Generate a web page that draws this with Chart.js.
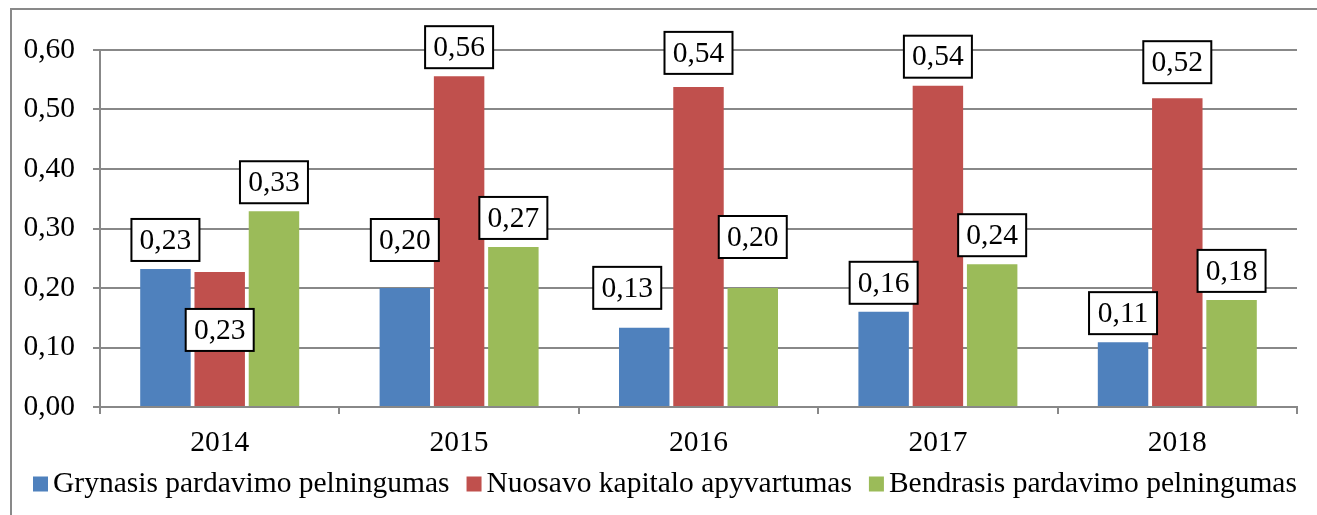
<!DOCTYPE html>
<html>
<head>
<meta charset="utf-8">
<script src="https://cdn.jsdelivr.net/npm/chart.js@4"></script>
<style>
  html, body { margin: 0; padding: 0; background: #fff; overflow: hidden; }
  #wrap { position: relative; width: 1317px; height: 515px; overflow: hidden; }
  #frame { position: absolute; left: 10px; top: 8px; width: 1400px; height: 600px;
           border: 2px solid #898989; box-sizing: border-box; }
  canvas { position: absolute; left: 0; top: 0; }
</style>
</head>
<body>
<div id="wrap">
  <div id="frame"></div>
  <canvas id="myChart" width="1317" height="515"></canvas>
</div>
<script>
var years = ['2014', '2015', '2016', '2017', '2018'];
var grynasis = [0.232, 0.200, 0.133, 0.160, 0.109];
var nuosavo = [0.227, 0.556, 0.538, 0.540, 0.519];
var bendrasis = [0.329, 0.269, 0.200, 0.240, 0.180];
var yTicks = [0, 0.1, 0.2, 0.3, 0.4, 0.5, 0.6];

// label nudges in px (dx, dy) where the labels were moved by hand
var labelShift = [
  [[0, 0], [0, -19], [-17, -11], [0, 0], [0, 0]],
  [[0, 87], [0, 0], [0, -5], [0, 0], [0, -7]],
  [[0, 0], [0, 0], [0, -22], [0, 0], [0, 0]]
];

var FONT = "'Liberation Serif', 'Times New Roman', serif";
var FSIZE = 29.5;
var grey = '#888888';

function fmt(v) {
  return v.toFixed(2).replace('.', ',');
}

// boxed value labels above the bars
var boxLabels = {
  id: 'boxLabels',
  afterDatasetsDraw: function(chart) {
    var ctx = chart.ctx;
    ctx.save();
    ctx.font = FSIZE + 'px ' + FONT;
    ctx.textAlign = 'center';
    ctx.textBaseline = 'middle';
    chart.data.datasets.forEach(function(ds, i) {
      var meta = chart.getDatasetMeta(i);
      meta.data.forEach(function(bar, j) {
        var txt = fmt(ds.data[j]);
        var w = 68, h = 42;
        var sh = labelShift[i][j];
        var cx = bar.x + sh[0];
        var bottom = bar.y - 8 + sh[1];
        ctx.fillStyle = '#fff';
        ctx.fillRect(cx - w / 2, bottom - h, w, h);
        ctx.lineWidth = 2;
        ctx.strokeStyle = '#000';
        ctx.strokeRect(cx - w / 2, bottom - h, w, h);
        ctx.fillStyle = '#000';
        ctx.fillText(txt, cx, bottom - h / 2 + 1);
      });
    });
    ctx.restore();
  }
};

// one-row legend like the Excel one (small gap box->text, wider gap between items)
var rowLegend = {
  id: 'rowLegend',
  afterDraw: function(chart) {
    var ctx = chart.ctx;
    ctx.save();
    ctx.font = FSIZE + 'px ' + FONT;
    ctx.textBaseline = 'middle';
    ctx.textAlign = 'left';
    var x = 33, cy = 484, box = 15;
    chart.data.datasets.forEach(function(ds) {
      ctx.fillStyle = ds.backgroundColor;
      ctx.fillRect(x, cy - box / 2, box, box);
      x += box + 5;
      ctx.fillStyle = '#000';
      ctx.fillText(ds.label, x, cy);
      x += ctx.measureText(ds.label).width + 17;
    });
    ctx.restore();
  }
};

var ctx = document.getElementById('myChart').getContext('2d');
var myChart = new Chart(ctx, {
  type: 'bar',
  data: {
    labels: years,
    datasets: [{
        label: 'Grynasis pardavimo pelningumas',
        data: grynasis,
        backgroundColor: '#4F81BD'
      }, {
        label: 'Nuosavo kapitalo apyvartumas',
        data: nuosavo,
        backgroundColor: '#C0504D'
      }, {
        label: 'Bendrasis pardavimo pelningumas',
        data: bendrasis,
        backgroundColor: '#9BBB59'
      }
    ]
  },
  plugins: [boxLabels, rowLegend],
  options: {
    responsive: false,
    animation: false,
    categoryPercentage: 0.68,
    barPercentage: 0.93,
    layout: {
      padding: { left: 10, top: 50, right: 20, bottom: 56 }
    },
    scales: {
      y: {
        min: 0,
        max: 0.6,
        afterFit: function(scale) { scale.width = 90; },
        afterBuildTicks: function(scale) {
          scale.ticks = yTicks.map(function(v) { return { value: v }; });
        },
        ticks: {
          padding: 18,
          color: '#000',
          font: { family: FONT, size: FSIZE },
          callback: function(v) { return fmt(v); }
        },
        grid: { color: grey, lineWidth: 2, tickLength: 7 },
        border: { color: grey, width: 2 }
      },
      x: {
        afterFit: function(scale) { scale.height = 52; },
        ticks: {
          padding: 12,
          color: '#000',
          font: { family: FONT, size: FSIZE }
        },
        grid: { offset: true, drawOnChartArea: false, color: grey, lineWidth: 2, tickLength: 7 },
        border: { color: grey, width: 2 }
      }
    },
    plugins: {
      legend: { display: false },
      tooltip: { enabled: false }
    }
  }
});
</script>
</body>
</html>
